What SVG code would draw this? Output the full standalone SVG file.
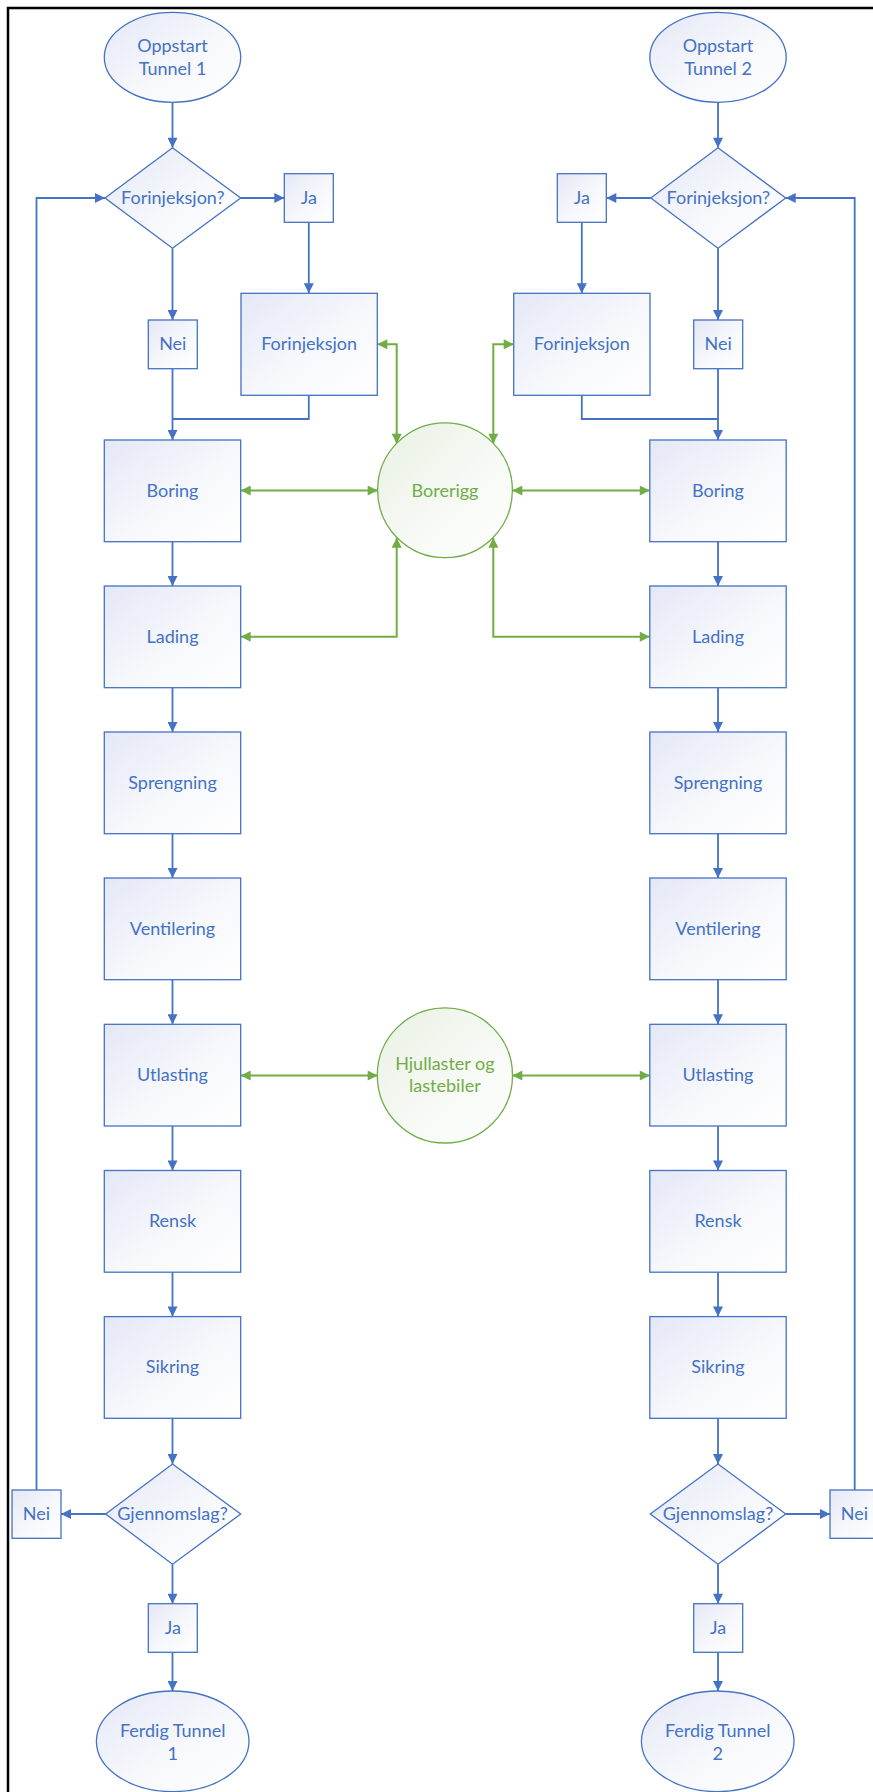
<svg xmlns="http://www.w3.org/2000/svg" width="873" height="1792" viewBox="0 0 873 1792">
  <defs>
    <linearGradient id="blueFill" x1="0" y1="0" x2="1" y2="1">
      <stop offset="0" stop-color="#e4e8f6"/>
      <stop offset="0.55" stop-color="#f7f8fc"/>
      <stop offset="1" stop-color="#ffffff"/>
    </linearGradient>
    <linearGradient id="greenFill" x1="0" y1="0" x2="1" y2="1">
      <stop offset="0" stop-color="#e9f1e4"/>
      <stop offset="0.55" stop-color="#f6f9f4"/>
      <stop offset="1" stop-color="#ffffff"/>
    </linearGradient>
    <marker id="arrowBlue" viewBox="0 0 10 10" refX="10" refY="5" markerWidth="11" markerHeight="10" markerUnits="userSpaceOnUse" orient="auto">
      <path d="M0,0 L10,5 L0,10 z" fill="#4472c4"/>
    </marker>
    <marker id="arrowGreen" viewBox="0 0 10 10" refX="10" refY="5" markerWidth="11" markerHeight="10" markerUnits="userSpaceOnUse" orient="auto-start-reverse">
      <path d="M0,0 L10,5 L0,10 z" fill="#70ad47"/>
    </marker>
  </defs>
  <style>
    .shape { fill: url(#blueFill); stroke: #4472c4; stroke-width: 1.3; }
    .res { fill: url(#greenFill); stroke: #70ad47; stroke-width: 1.3; }
    .lbl { font-family: Lato, "Open Sans", sans-serif; font-size: 18px; fill: #4472c4; text-anchor: middle; }
    .glbl { font-family: Lato, "Open Sans", sans-serif; font-size: 18px; fill: #70ad47; text-anchor: middle; }
    .flow { fill: none; stroke: #4472c4; stroke-width: 1.8; }
    .flowA { fill: none; stroke: #4472c4; stroke-width: 1.8; marker-end: url(#arrowBlue); }
    .link { fill: none; stroke: #70ad47; stroke-width: 2; marker-start: url(#arrowGreen); marker-end: url(#arrowGreen); }
  </style>

  <rect width="873" height="1792" fill="#ffffff"/>
  <!-- page frame -->
  <path d="M8,1792 V8 H873" fill="none" stroke="#000000" stroke-width="2.5"/>

  <!-- connectors -->
  <g id="connectors">
    <!-- tunnel 1 -->
    <path class="flowA" d="M172.5,102.3 V147.7"/>
    <path class="flowA" d="M240.7,198 H284.3"/>
    <path class="flowA" d="M308.8,222.3 V293.3"/>
    <path class="flowA" d="M172.5,248.3 V320"/>
    <path class="flowA" d="M172.5,368.7 V440"/>
    <path class="flow" d="M308.8,395.3 V419 H172.5"/>
    <path class="flowA" d="M172.5,541.7 V586"/>
    <path class="flowA" d="M172.5,687.7 V732"/>
    <path class="flowA" d="M172.5,833.7 V878"/>
    <path class="flowA" d="M172.5,979.7 V1024.3"/>
    <path class="flowA" d="M172.5,1126 V1170.5"/>
    <path class="flowA" d="M172.5,1272.2 V1316.6"/>
    <path class="flowA" d="M172.5,1418.3 V1464"/>
    <path class="flowA" d="M105.7,1514 H61"/>
    <path class="flowA" d="M36.5,1490 V198 H105"/>
    <path class="flowA" d="M172.5,1564.3 V1603.7"/>
    <path class="flowA" d="M172.5,1652.3 V1691"/>
    <!-- tunnel 2 -->
    <path class="flowA" d="M718,102.3 V147.7"/>
    <path class="flowA" d="M650.8,198 H606.3"/>
    <path class="flowA" d="M581.8,222.3 V293.3"/>
    <path class="flowA" d="M718,248.3 V320"/>
    <path class="flowA" d="M718,368.7 V440"/>
    <path class="flow" d="M581.8,395.3 V419 H718"/>
    <path class="flowA" d="M718,541.7 V586"/>
    <path class="flowA" d="M718,687.7 V732"/>
    <path class="flowA" d="M718,833.7 V878"/>
    <path class="flowA" d="M718,979.7 V1024.3"/>
    <path class="flowA" d="M718,1126 V1170.5"/>
    <path class="flowA" d="M718,1272.2 V1316.6"/>
    <path class="flowA" d="M718,1418.3 V1464"/>
    <path class="flowA" d="M785.7,1514 H830"/>
    <path class="flowA" d="M854.7,1490 V198 H785.7"/>
    <path class="flowA" d="M718,1564.3 V1603.7"/>
    <path class="flowA" d="M718,1652.3 V1691"/>
    <!-- shared equipment -->
    <path class="link" d="M377.3,344.3 H396.7 V443.7"/>
    <path class="link" d="M240.7,490.5 H377.7"/>
    <path class="link" d="M240.7,636.7 H396.7 V537.7"/>
    <path class="link" d="M513.7,344.3 H493.3 V443.7"/>
    <path class="link" d="M649.8,490.5 H512.3"/>
    <path class="link" d="M649.8,636.7 H493.3 V537.7"/>
    <path class="link" d="M240.7,1075.5 H377.7"/>
    <path class="link" d="M649.8,1075.5 H512.3"/>
  </g>

  <!-- tunnel 1 nodes -->
  <g id="start1">
    <ellipse class="shape" cx="172.5" cy="57.3" rx="68.2" ry="45"/>
    <text class="lbl" x="172.5" y="52">Oppstart</text>
    <text class="lbl" x="172.5" y="75">Tunnel 1</text>
  </g>
  <g id="decision1">
    <polygon class="shape" points="105,198 172.5,147.7 240.7,198 172.5,248.3"/>
    <text class="lbl" x="172.8" y="204">Forinjeksjon?</text>
  </g>
  <g id="yes1">
    <rect class="shape" x="284.3" y="173.7" width="49" height="48.6"/>
    <text class="lbl" x="308.8" y="204">Ja</text>
  </g>
  <g id="preinj1">
    <rect class="shape" x="241" y="293.3" width="136.3" height="102"/>
    <text class="lbl" x="309.1" y="350">Forinjeksjon</text>
  </g>
  <g id="no1">
    <rect class="shape" x="148.3" y="320" width="49" height="48.7"/>
    <text class="lbl" x="172.8" y="350">Nei</text>
  </g>
  <g id="boring1">
    <rect class="shape" x="104.3" y="440" width="136.4" height="101.7"/>
    <text class="lbl" x="172.5" y="496.5">Boring</text>
  </g>
  <g id="lading1">
    <rect class="shape" x="104.3" y="586" width="136.4" height="101.7"/>
    <text class="lbl" x="172.5" y="642.5">Lading</text>
  </g>
  <g id="sprengning1">
    <rect class="shape" x="104.3" y="732" width="136.4" height="101.7"/>
    <text class="lbl" x="172.5" y="788.5">Sprengning</text>
  </g>
  <g id="ventilering1">
    <rect class="shape" x="104.3" y="878" width="136.4" height="101.7"/>
    <text class="lbl" x="172.5" y="934.5">Ventilering</text>
  </g>
  <g id="utlasting1">
    <rect class="shape" x="104.3" y="1024.3" width="136.4" height="101.7"/>
    <text class="lbl" x="172.5" y="1081">Utlasting</text>
  </g>
  <g id="rensk1">
    <rect class="shape" x="104.3" y="1170.5" width="136.4" height="101.7"/>
    <text class="lbl" x="172.5" y="1227">Rensk</text>
  </g>
  <g id="sikring1">
    <rect class="shape" x="104.3" y="1316.6" width="136.4" height="101.7"/>
    <text class="lbl" x="172.5" y="1373">Sikring</text>
  </g>
  <g id="breakthrough1">
    <polygon class="shape" points="105.7,1514 172.5,1464 240.7,1514 172.5,1564.3"/>
    <text class="lbl" x="172.5" y="1520">Gjennomslag?</text>
  </g>
  <g id="loopNo1">
    <rect class="shape" x="12" y="1490" width="49" height="48.3"/>
    <text class="lbl" x="36.5" y="1520">Nei</text>
  </g>
  <g id="doneYes1">
    <rect class="shape" x="148.3" y="1603.7" width="49" height="48.6"/>
    <text class="lbl" x="172.8" y="1634">Ja</text>
  </g>
  <g id="end1">
    <ellipse class="shape" cx="172.7" cy="1741.3" rx="76.3" ry="50.3"/>
    <text class="lbl" x="172.7" y="1737">Ferdig Tunnel</text>
    <text class="lbl" x="172.7" y="1760">1</text>
  </g>

  <!-- tunnel 2 nodes -->
  <g id="start2">
    <ellipse class="shape" cx="718" cy="57.3" rx="68.2" ry="45"/>
    <text class="lbl" x="718" y="52">Oppstart</text>
    <text class="lbl" x="718" y="75">Tunnel 2</text>
  </g>
  <g id="decision2">
    <polygon class="shape" points="650.8,198 718,147.7 785.7,198 718,248.3"/>
    <text class="lbl" x="718.3" y="204">Forinjeksjon?</text>
  </g>
  <g id="yes2">
    <rect class="shape" x="557.3" y="173.7" width="49" height="48.6"/>
    <text class="lbl" x="581.8" y="204">Ja</text>
  </g>
  <g id="preinj2">
    <rect class="shape" x="513.7" y="293.3" width="136.3" height="102"/>
    <text class="lbl" x="581.8" y="350">Forinjeksjon</text>
  </g>
  <g id="no2">
    <rect class="shape" x="693.7" y="320" width="49" height="48.7"/>
    <text class="lbl" x="718.2" y="350">Nei</text>
  </g>
  <g id="boring2">
    <rect class="shape" x="649.8" y="440" width="136.4" height="101.7"/>
    <text class="lbl" x="718" y="496.5">Boring</text>
  </g>
  <g id="lading2">
    <rect class="shape" x="649.8" y="586" width="136.4" height="101.7"/>
    <text class="lbl" x="718" y="642.5">Lading</text>
  </g>
  <g id="sprengning2">
    <rect class="shape" x="649.8" y="732" width="136.4" height="101.7"/>
    <text class="lbl" x="718" y="788.5">Sprengning</text>
  </g>
  <g id="ventilering2">
    <rect class="shape" x="649.8" y="878" width="136.4" height="101.7"/>
    <text class="lbl" x="718" y="934.5">Ventilering</text>
  </g>
  <g id="utlasting2">
    <rect class="shape" x="649.8" y="1024.3" width="136.4" height="101.7"/>
    <text class="lbl" x="718" y="1081">Utlasting</text>
  </g>
  <g id="rensk2">
    <rect class="shape" x="649.8" y="1170.5" width="136.4" height="101.7"/>
    <text class="lbl" x="718" y="1227">Rensk</text>
  </g>
  <g id="sikring2">
    <rect class="shape" x="649.8" y="1316.6" width="136.4" height="101.7"/>
    <text class="lbl" x="718" y="1373">Sikring</text>
  </g>
  <g id="breakthrough2">
    <polygon class="shape" points="650.3,1514 718,1464 785.7,1514 718,1564.3"/>
    <text class="lbl" x="718" y="1520">Gjennomslag?</text>
  </g>
  <g id="loopNo2">
    <rect class="shape" x="830" y="1490" width="49" height="48.3"/>
    <text class="lbl" x="854.5" y="1520">Nei</text>
  </g>
  <g id="doneYes2">
    <rect class="shape" x="693.7" y="1603.7" width="49" height="48.6"/>
    <text class="lbl" x="718.2" y="1634">Ja</text>
  </g>
  <g id="end2">
    <ellipse class="shape" cx="717.7" cy="1741.3" rx="76.3" ry="50.3"/>
    <text class="lbl" x="717.7" y="1737">Ferdig Tunnel</text>
    <text class="lbl" x="717.7" y="1760">2</text>
  </g>

  <!-- shared resources -->
  <g id="borerigg">
    <circle class="res" cx="445" cy="490.3" r="67.4"/>
    <text class="glbl" x="445" y="496.5">Borerigg</text>
  </g>
  <g id="loaders">
    <circle class="res" cx="444.9" cy="1075.4" r="67.6"/>
    <text class="glbl" x="444.9" y="1069.5">Hjullaster og</text>
    <text class="glbl" x="444.9" y="1092">lastebiler</text>
  </g>
</svg>
